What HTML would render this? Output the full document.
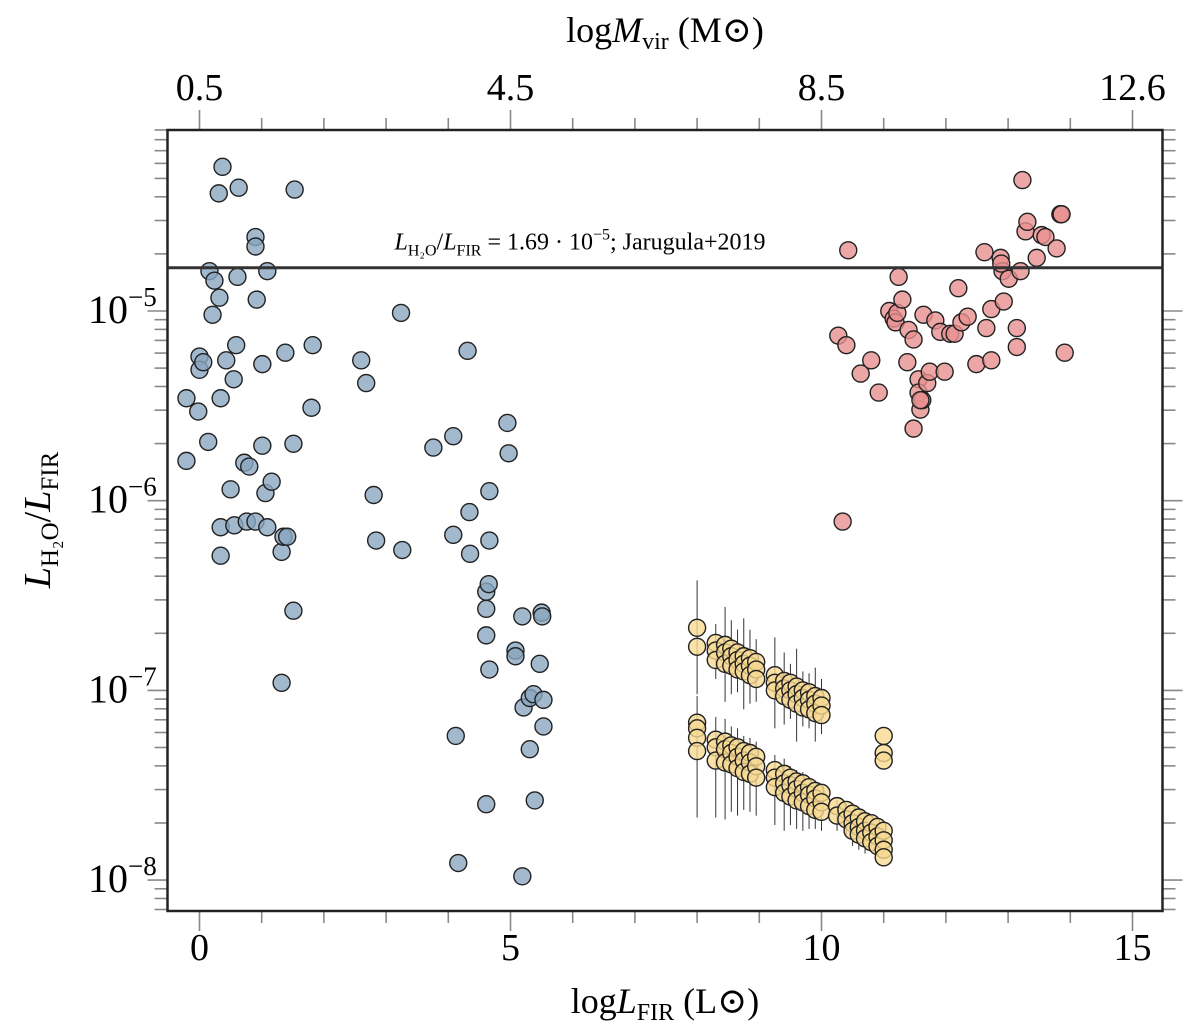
<!DOCTYPE html>
<html><head><meta charset="utf-8"><style>
body{margin:0;background:#fff;}
svg{display:block;font-family:"Liberation Serif","DejaVu Serif",serif;}
</style></head><body>
<svg id="chart" width="1200" height="1031" viewBox="0 0 1200 1031" xmlns="http://www.w3.org/2000/svg">
<g id="ticks"></g>
<g id="errs"></g>
<g id="marks"></g>
<rect x="167.5" y="130" width="995" height="781" fill="none" stroke="#222" stroke-width="2.5"/>
<line id="refline" x1="167.5" x2="1162.5" stroke="#333" stroke-width="3"/>
<text id="reftext" x="580" font-size="24" text-anchor="middle"><tspan font-style="italic">L</tspan><tspan font-size="16" dy="6">H₂O</tspan><tspan dy="-6">/</tspan><tspan font-style="italic">L</tspan><tspan font-size="16" dy="6">FIR</tspan><tspan dy="-6"> = 1.69 · 10</tspan><tspan font-size="16" dy="-10">−5</tspan><tspan dy="10">; Jarugula+2019</tspan></text>
<text x="665" y="1013" font-size="36" text-anchor="middle">log<tspan font-style="italic">L</tspan><tspan font-size="24" dy="7">FIR</tspan><tspan dy="-7"> (L</tspan><tspan>⊙</tspan>)</text>
<text x="665" y="42" font-size="36" text-anchor="middle">log<tspan font-style="italic">M</tspan><tspan font-size="24" dy="7">vir</tspan><tspan dy="-7"> (M</tspan><tspan>⊙</tspan>)</text>
<text transform="translate(50,520) rotate(-90)" font-size="38" text-anchor="middle"><tspan font-style="italic">L</tspan><tspan font-size="25" dy="8">H₂O</tspan><tspan dy="-8">/</tspan><tspan font-style="italic">L</tspan><tspan font-size="25" dy="8">FIR</tspan></text>
</svg>
<script>
const NS="http://www.w3.org/2000/svg";
const xTicks=[0,5,10,15];
const topTickLabels=["0.5","4.5","8.5","12.6"];
const yDecades=[-8,-7,-6,-5];
const refValue=-4.772;
const blueX=[-0.21,-0.21,-0.02,0,0,0.06,0.14,0.16,0.21,0.24,0.31,0.32,0.34,0.34,0.34,0.37,0.43,0.5,0.55,0.56,0.59,0.61,0.63,0.72,0.76,0.8,0.9,0.9,0.9,0.92,1.01,1.01,1.06,1.09,1.09,1.16,1.32,1.35,1.38,1.41,1.51,1.51,1.53,1.32,1.82,1.8,2.6,2.68,2.8,2.84,3.24,3.26,3.76,4.08,4.08,4.31,4.34,4.35,4.61,4.61,4.61,4.65,4.66,4.66,4.66,4.12,4.61,4.16,4.95,4.97,5.08,5.08,5.19,5.21,5.31,5.31,5.37,5.39,5.19,5.5,5.51,5.47,5.53,5.53];
const blueY=[-5.46,-5.79,-5.53,-5.24,-5.31,-5.27,-5.69,-4.79,-5.02,-4.84,-4.38,-4.93,-5.46,-6.14,-6.29,-4.24,-5.26,-5.94,-5.36,-6.13,-5.18,-4.82,-4.35,-5.8,-6.11,-5.82,-6.11,-4.61,-4.66,-4.94,-5.28,-5.71,-5.96,-6.14,-4.79,-5.9,-6.27,-6.19,-5.22,-6.19,-6.58,-5.7,-4.36,-6.96,-5.18,-5.51,-5.26,-5.38,-5.97,-6.21,-5.01,-6.26,-5.72,-5.66,-6.18,-5.21,-6.06,-6.28,-6.48,-6.57,-6.71,-6.44,-5.95,-6.21,-6.89,-7.24,-7.6,-7.91,-5.59,-5.75,-6.79,-6.82,-6.61,-7.09,-7.31,-7.04,-7.02,-7.58,-7.98,-6.59,-6.61,-6.86,-7.05,-7.19];
const redX=[10.27,10.43,10.4,10.63,10.34,10.8,10.92,11.09,11.16,11.19,11.22,11.24,11.3,11.38,11.4,11.48,11.56,11.56,11.59,11.62,11.64,11.7,11.74,11.83,11.91,11.98,12.07,12.14,12.2,12.25,12.35,12.49,12.62,12.65,12.73,12.73,12.88,12.91,12.89,12.93,13.01,13.14,13.14,13.2,13.23,13.28,13.31,13.46,13.54,13.6,13.78,13.84,13.86,13.91,11.48,11.59];
const redY=[-5.13,-4.68,-5.18,-5.33,-6.11,-5.26,-5.43,-5.0,-5.04,-5.06,-5.01,-4.82,-4.94,-5.27,-5.1,-5.15,-5.36,-5.43,-5.52,-5.47,-5.02,-5.38,-5.32,-5.05,-5.11,-5.32,-5.12,-5.12,-4.88,-5.06,-5.03,-5.28,-4.69,-5.09,-5.26,-4.99,-4.72,-4.79,-4.75,-4.95,-4.83,-5.09,-5.19,-4.79,-4.31,-4.58,-4.53,-4.72,-4.6,-4.61,-4.67,-4.49,-4.49,-5.22,-5.62,-5.47];
const yelX=[8.0,8.0,8.3,8.3,8.3,8.45,8.45,8.45,8.55,8.55,8.55,8.65,8.65,8.65,8.75,8.75,8.75,8.85,8.85,8.85,8.95,8.95,8.95,9.25,9.25,9.25,9.4,9.4,9.4,9.5,9.5,9.5,9.6,9.6,9.6,9.7,9.7,9.7,9.8,9.8,9.8,9.9,9.9,9.9,10,10,10,
8.0,8.0,8.0,8.0,8.3,8.3,8.3,8.45,8.45,8.45,8.55,8.55,8.55,8.65,8.65,8.65,8.75,8.75,8.75,8.85,8.85,8.85,8.95,8.95,8.95,9.25,9.25,9.25,9.4,9.4,9.4,9.5,9.5,9.5,9.6,9.6,9.6,9.7,9.7,9.7,9.8,9.8,9.8,9.9,9.9,9.9,10,10,10,10.25,10.25,10.4,10.4,10.5,10.5,10.5,10.6,10.6,10.6,10.7,10.7,10.7,10.8,10.8,10.8,10.9,10.9,10.9,11,11,11,11,11,11,11];
const yelY=[-6.67,-6.77,-6.75,-6.79,-6.84,-6.76,-6.8,-6.86,-6.78,-6.82,-6.87,-6.8,-6.84,-6.89,-6.82,-6.86,-6.9,-6.83,-6.87,-6.92,-6.85,-6.89,-6.94,-6.92,-6.96,-7.0,-6.95,-6.99,-7.03,-6.96,-7.0,-7.05,-6.98,-7.02,-7.07,-7.0,-7.04,-7.09,-7.01,-7.05,-7.1,-7.03,-7.07,-7.12,-7.04,-7.08,-7.13,
-7.17,-7.2,-7.25,-7.32,-7.26,-7.3,-7.37,-7.27,-7.31,-7.38,-7.29,-7.33,-7.39,-7.3,-7.35,-7.41,-7.32,-7.37,-7.43,-7.33,-7.38,-7.44,-7.35,-7.4,-7.46,-7.42,-7.46,-7.51,-7.44,-7.49,-7.54,-7.46,-7.5,-7.56,-7.48,-7.52,-7.58,-7.49,-7.54,-7.59,-7.51,-7.55,-7.61,-7.53,-7.57,-7.63,-7.54,-7.59,-7.64,-7.61,-7.66,-7.63,-7.68,-7.65,-7.7,-7.74,-7.67,-7.72,-7.76,-7.69,-7.74,-7.78,-7.7,-7.75,-7.8,-7.72,-7.77,-7.82,-7.74,-7.79,-7.84,-7.88,-7.24,-7.33,-7.37];
const yelErr=[0.25,0.1,0.2,0.15,0.12,0.2,0.15,0.12,0.2,0.15,0.1,0.2,0.1,0.1,0.15,0.1,0.1,0.15,0.1,0.1,0.15,0.1,0.1];
const yelErrLow=[0.35,0.3,0.3,0.25,0.25,0.2,0.2,0.2,0.2,0.2,0.15,0.15,0.15,0.12,0.1,0.1];

const X0=199.5,PX=62.2,Y5=311,PY=189.7;
function sx(v){return X0+v*PX;}
function sy(v){return Y5-(v+5)*PY;}
const L=167.5,R=1162.5,T=130,B=911;
const tg=document.getElementById('ticks');
function ln(x1,y1,x2,y2){const l=document.createElementNS(NS,'line');l.setAttribute('x1',x1);l.setAttribute('y1',y1);l.setAttribute('x2',x2);l.setAttribute('y2',y2);l.setAttribute('stroke','#888');l.setAttribute('stroke-width','1.6');


tg.appendChild(l);}
function tx(x,y,s,size,anchor){const t=document.createElementNS(NS,'text');t.setAttribute('x',x);t.setAttribute('y',y);t.setAttribute('font-size',size);t.setAttribute('text-anchor',anchor);t.textContent=s;


tg.appendChild(t);return t;}
for(let i=-0;i<=15;i++){const x=sx(i);const maj=i%5===0;ln(x,B,x,B+(maj?20:12));ln(x,T,x,T-(maj?20:12));}
xTicks.forEach((v,i)=>{tx(sx(v),960,String(v),38,'middle');tx(sx(v),100,topTickLabels[i],38,'middle');});
for(let d=-9;d<=-4;d++){for(let m=1;m<10;m++){const v=d+Math.log10(m);const y=sy(v);if(y<T-1||y>B+1)continue;const maj=m===1;ln(L,y,L-(maj?20:13),y);ln(R,y,R+(maj?20:13),y);}}
yDecades.forEach(d=>{const t=tx(130,sy(d)+12,'10',40,'end');const s=document.createElementNS(NS,'tspan');s.setAttribute('font-size','27');s.setAttribute('dy','-17');s.textContent='−'+(-d);t.appendChild(s);t.setAttribute('x','88');t.setAttribute('text-anchor','start');});
const rl=document.getElementById('refline');rl.setAttribute('y1',sy(refValue));rl.setAttribute('y2',sy(refValue));
document.getElementById('reftext').setAttribute('y',sy(refValue)-18);
const mg=document.getElementById('marks'),eg=document.getElementById('errs');
function dot(x,y,fill,name){const c=document.createElementNS(NS,'circle');c.setAttribute('cx',sx(x));c.setAttribute('cy',sy(y));c.setAttribute('r','8.5');c.setAttribute('fill',fill);c.setAttribute('fill-opacity','0.8');c.setAttribute('stroke','#222');c.setAttribute('stroke-width','1.4');


mg.appendChild(c);}
blueX.forEach((x,i)=>dot(x,blueY[i],'#8aa6c1','point-low-mass'));
redX.forEach((x,i)=>dot(x,redY[i],'#e99090','point-high-mass'));
const upCols=[...new Set(yelX.slice(0,47))];
upCols.forEach((x,i)=>{const ys=yelY.filter((y,j)=>yelX[j]===x&&j<47);const e=yelErr[i]||0.1;const l=document.createElementNS(NS,'line');l.setAttribute('x1',sx(x));l.setAttribute('x2',sx(x));l.setAttribute('y1',sy(Math.max(...ys)+e));l.setAttribute('y2',sy(Math.min(...ys)-e));l.setAttribute('stroke','#333');l.setAttribute('stroke-width','1');


eg.appendChild(l);});
const loCols=[...new Set(yelX.slice(47,111))];
loCols.forEach((x,i)=>{const ys=yelY.filter((y,j)=>yelX[j]===x&&j>=47&&j<111);const e=yelErrLow[i]||0.08;const l=document.createElementNS(NS,'line');l.setAttribute('x1',sx(x));l.setAttribute('x2',sx(x));l.setAttribute('y1',sy(Math.max(...ys)+e*0.4));l.setAttribute('y2',sy(Math.min(...ys)-e));l.setAttribute('stroke','#333');l.setAttribute('stroke-width','1');


eg.appendChild(l);});
yelX.forEach((x,i)=>dot(x,yelY[i],'#f7da92','point-model'));
</script>
</body></html>
